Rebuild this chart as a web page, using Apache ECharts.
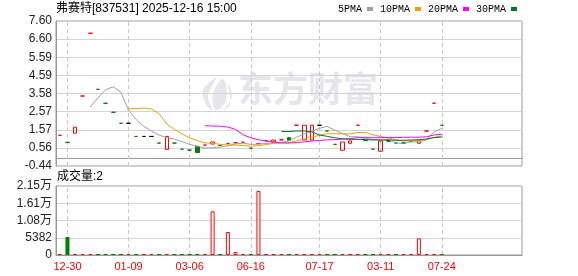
<!DOCTYPE html>
<html><head><meta charset="utf-8">
<script src="https://cdn.jsdelivr.net/npm/echarts@6/dist/echarts.min.js"></script>
<style>html,body{margin:0;padding:0;background:#fff}#c{width:578px;height:276px}</style>
</head><body><div id="c"></div>
<script>
// ---- data ----
const slotCount = 61;
const labelIdx  = [1, 9, 17, 25, 34, 42, 50];
const labelText = ['12-30', '01-09', '03-06', '06-16', '07-17', '03-11', '07-24'];
const opens  = [1.26,0.87,1.38,3.44,6.92,3.81,3.04,2.54,1.93,1.93,
                1.20,1.20,1.20,0.83,0.48,0.83,0.49,0.44,0.65,0.72,
                0.78,0.70,0.80,0.85,0.88,0.55,0.80,0.97,0.89,1.01,
                1.13,1.82,1.00,1.00,1.82,1.50,0.76,0.43,0.82,1.82,
                0.97,0.49,0.38,0.95,0.83,0.83,0.92,0.82,1.50,3.04,1.82];
const closes = [1.26,0.87,1.71,3.44,6.92,3.81,3.04,2.54,1.93,1.93,
                1.20,1.20,1.20,0.83,1.20,0.83,0.49,0.44,0.31,0.72,
                0.89,0.70,0.80,0.85,0.88,0.55,0.80,0.97,1.00,1.01,
                0.99,1.82,1.82,1.82,1.82,1.50,0.76,0.89,0.95,1.82,
                0.97,0.49,0.95,0.95,0.83,0.83,0.92,0.97,1.50,3.04,1.82];
const volumes = [3,5600,2,1,2,3,1,2,2,1,
                 2,1,1,2,3,2,1,2,4,2,
                 13630,2,7180,940,2,3,19970,2,1,2,
                 3,2,4,3,1,2,2,3,2,1,
                 2,2,3,1,2,1,2,5200,2,3,2];
const yTickLabels   = ['-0.44','0.56','1.57','2.57','3.58','4.59','5.59','6.60','7.60'];
const volTickLabels = ['0','5382','1.08万','1.61万','2.15万'];
const maNames = ['5PMA','10PMA','20PMA','30PMA'];
const maDays  = [5, 10, 20, 30];

// ---- styling ----
const RED = '#ff0000', GREEN = '#008000', BLACK = '#000000';
const maColors = ['#a0a0a0', '#f0a000', '#ff00ff', '#00782d'];
const yMin = -0.44, yMax = 7.60, yStep = 1.005;
const vMax = 21528, vStep = 5382;

const categories = Array.from({length: slotCount}, (_, i) => {
  const k = labelIdx.indexOf(i); return k >= 0 ? labelText[k] : '';
});

function sign(i) {
  const o = opens[i], c = closes[i];
  if (c > o) return 1;
  if (c < o) return -1;
  if (i === 0) return 1;
  const p = closes[i - 1];
  return c > p ? 1 : (c < p ? -1 : 0);
}

const candleData = opens.map((o, i) => {
  const c = closes[i], s = sign(i);
  const col = s > 0 ? RED : (s < 0 ? GREEN : BLACK);
  let fill = col;
  if (c > o) fill = 'rgba(255,255,255,0)';
  return { value: [o, c, Math.min(o, c), Math.max(o, c)],
           itemStyle: { color: fill, color0: fill, borderColor: col, borderColor0: col } };
});

const volData = volumes.map((v, i) => {
  const up = sign(i) >= 0;
  return { value: v, itemStyle: up ? { color: '#fff', borderColor: RED, borderWidth: 1 }
                                   : { color: GREEN, borderColor: GREEN, borderWidth: 0 } };
});

function ma(n) {
  return closes.map((c, i) => {
    if (i < n - 1) return '-';
    let s = 0; for (let k = i - n + 1; k <= i; k++) s += closes[k];
    return +(s / n).toFixed(4);
  });
}

const vLines = labelIdx.map(i => ({ xAxis: i }));
const markLineCfg = { silent: true, symbol: 'none', z: 1, animation: false,
  label: { show: false }, lineStyle: { color: '#c8c8c8', type: [4, 3], width: 1 }, data: vLines };

const WM = '#e6e6ea';
const chart = echarts.init(document.getElementById('c'));
const font = '"Liberation Sans", "Noto Sans CJK SC", sans-serif';
chart.setOption({
  animation: false,
  backgroundColor: '#fff',
  title: [
    { text: '弗赛特[837531] 2025-12-16 15:00', left: 56, top: 3, padding: 0,
      textStyle: { fontSize: 12, fontWeight: 'normal', color: '#000', fontFamily: font } },
    { text: '成交量:2', left: 57, top: 171, padding: 0,
      textStyle: { fontSize: 12, fontWeight: 'normal', color: '#000', fontFamily: font } }
  ],
  legend: {
    data: maNames, left: 338, top: 4, padding: 0, align: 'right', icon: 'rect',
    itemWidth: 6, itemHeight: 4, itemGap: 7, selectedMode: false,
    textStyle: { fontFamily: '"Liberation Mono", monospace', fontSize: 10, color: '#000' }
  },
  graphic: [
    { type: 'polygon', z: 0, silent: true,
      shape: { points: [[216, 78], [203, 90], [206, 104], [212, 110], [208, 96]], smooth: 0.4 },
      style: { fill: WM } },
    { type: 'polygon', z: 0, silent: true,
      shape: { points: [[223, 79], [213, 94], [216, 110], [226, 100]], smooth: 0.4 },
      style: { fill: WM } },
    { type: 'polygon', z: 0, silent: true,
      shape: { points: [[228, 84], [232, 96], [224, 110], [230, 104]], smooth: 0.4 },
      style: { fill: WM } },
    { type: 'text', left: 238, top: 71, z: 0, silent: true,
      style: { text: '东方财富', fill: WM, font: 'bold 35px "Noto Sans CJK SC"' } }
  ],
  grid: [
    { left: 56, top: 21, width: 466, height: 145, show: true, borderColor: '#999', borderWidth: 1, backgroundColor: 'transparent' },
    { left: 56, top: 186, width: 466, height: 69, show: true, borderColor: '#999', borderWidth: 1, backgroundColor: 'transparent' }
  ],
  xAxis: [
    { type: 'category', gridIndex: 0, data: categories, boundaryGap: true,
      axisLine: { lineStyle: { color: '#999' } }, axisTick: { show: false },
      axisLabel: { show: false }, splitLine: { show: false } },
    { type: 'category', gridIndex: 1, data: categories, boundaryGap: true,
      axisLine: { lineStyle: { color: '#999' } }, axisTick: { show: false },
      axisLabel: { interval: 0, color: RED, fontSize: 11, fontFamily: font, margin: 6 },
      splitLine: { show: false } }
  ],
  yAxis: [
    { type: 'value', gridIndex: 0, min: yMin, max: yMax, interval: yStep,
      axisLine: { show: true, lineStyle: { color: '#999' } }, axisTick: { show: false },
      axisLabel: { color: '#222', fontSize: 12, fontFamily: font, margin: 4,
                   formatter: v => yTickLabels[Math.round((v - yMin) / yStep)] },
      splitLine: { lineStyle: { color: '#d4d4d4' } } },
    { type: 'value', gridIndex: 1, min: 0, max: vMax, interval: vStep,
      axisLine: { show: true, lineStyle: { color: '#999' } }, axisTick: { show: false },
      axisLabel: { color: '#222', fontSize: 12, fontFamily: font, margin: 4,
                   formatter: v => volTickLabels[Math.round(v / vStep)] },
      splitLine: { lineStyle: { color: '#d4d4d4' } } }
  ],
  series: [
    { type: 'candlestick', name: 'K', xAxisIndex: 0, yAxisIndex: 0, barWidth: 4,
      data: candleData, itemStyle: { borderWidth: 1 }, markLine: markLineCfg, z: 3 },
    ...maNames.map((n, k) => ({
      type: 'line', name: n, xAxisIndex: 0, yAxisIndex: 0, data: ma(maDays[k]),
      showSymbol: false, symbol: 'none', color: maColors[k],
      lineStyle: { width: 1, color: maColors[k] }, z: 4
    })),
    { type: 'bar', name: 'VOL', xAxisIndex: 1, yAxisIndex: 1, barWidth: 4, barMinHeight: 1,
      data: volData, markLine: markLineCfg }
  ]
});
</script></body></html>
